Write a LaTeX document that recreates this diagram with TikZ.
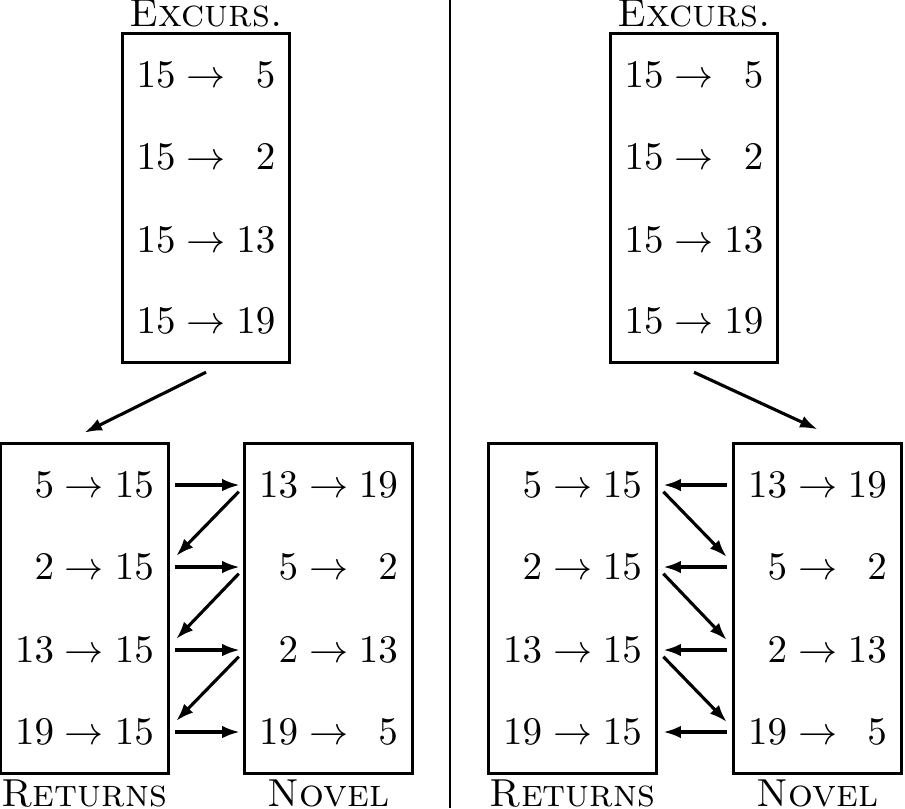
\documentclass[tikz,border=0pt]{standalone}
\usepackage{tikz}
\usetikzlibrary{positioning, fit, arrows.meta}

\begin{document}
\begin{tikzpicture}[
    entry/.style={minimum width=1.494cm, minimum height=0.74cm, inner sep=0pt},
    frame/.style={draw, line width=0.8pt, inner sep=0pt},
    arr/.style={line width=0.8pt, -{Latex[length=4.5pt, width=3.2pt]}}]
  \useasboundingbox (0,0) rectangle (8.145,7.272);

  % left half
  \node[entry] (exL1) at (1.854,6.597) {$15\to\phantom{1}5$};
  \node[entry] (exL2) at (1.854,5.859) {$15\to\phantom{1}2$};
  \node[entry] (exL3) at (1.854,5.112) {$15\to13$};
  \node[entry] (exL4) at (1.854,4.383) {$15\to19$};
  \node[frame, fit=(exL1)(exL4)] (exL) {};
  \node[above=0pt of exL, inner sep=1pt] (exLlab) {\textsc{Excurs.}};

  \node[entry] (retL1) at (0.760,2.907) {$\phantom{1}5\to15$};
  \node[entry] (retL2) at (0.760,2.169) {$\phantom{1}2\to15$};
  \node[entry] (retL3) at (0.760,1.422) {$13\to15$};
  \node[entry] (retL4) at (0.760,0.684) {$19\to15$};
  \node[frame, fit=(retL1)(retL4)] (retL) {};
  \node[below=0.8pt of retL, inner sep=0pt] (retLlab) {\textsc{Returns}};

  \node[entry] (novL1) at (2.957,2.907) {$13\to19$};
  \node[entry] (novL2) at (2.957,2.169) {$\phantom{1}5\to\phantom{1}2$};
  \node[entry] (novL3) at (2.957,1.422) {$\phantom{1}2\to13$};
  \node[entry] (novL4) at (2.957,0.684) {$19\to\phantom{1}5$};
  \node[frame, fit=(novL1)(novL4)] (novL) {};
  \node[below=0.8pt of novL, inner sep=0pt] (novLlab) {\textsc{Novel}};

  \draw[arr] ([yshift=-0.07cm]exL.south) -- ([yshift=0.08cm]retL.north);
  \foreach \i in {1,...,4}
    \draw[arr, shorten <=0.063cm, shorten >=0.045cm] (retL\i.east) -- (novL\i.west);
  \foreach \i/\j in {1/2,2/3,3/4}
    \draw[arr] ([xshift=-0.054cm, yshift=-0.06cm]novL\i.west)
      -- ([xshift=0.072cm, yshift=0.1cm]retL\j.east);

  % divider
  \draw[line width=0.4pt] (4.05,0) -- (4.05,7.272);

  % right half
  \node[entry] (exR1) at (6.246,6.597) {$15\to\phantom{1}5$};
  \node[entry] (exR2) at (6.246,5.859) {$15\to\phantom{1}2$};
  \node[entry] (exR3) at (6.246,5.112) {$15\to13$};
  \node[entry] (exR4) at (6.246,4.383) {$15\to19$};
  \node[frame, fit=(exR1)(exR4)] (exR) {};
  \node[above=0pt of exR, inner sep=1pt] (exRlab) {\textsc{Excurs.}};

  \node[entry] (retR1) at (5.153,2.907) {$\phantom{1}5\to15$};
  \node[entry] (retR2) at (5.153,2.169) {$\phantom{1}2\to15$};
  \node[entry] (retR3) at (5.153,1.422) {$13\to15$};
  \node[entry] (retR4) at (5.153,0.684) {$19\to15$};
  \node[frame, fit=(retR1)(retR4)] (retR) {};
  \node[below=0.8pt of retR, inner sep=0pt] (retRlab) {\textsc{Returns}};

  \node[entry] (novR1) at (7.358,2.907) {$13\to19$};
  \node[entry] (novR2) at (7.358,2.169) {$\phantom{1}5\to\phantom{1}2$};
  \node[entry] (novR3) at (7.358,1.422) {$\phantom{1}2\to13$};
  \node[entry] (novR4) at (7.358,0.684) {$19\to\phantom{1}5$};
  \node[frame, fit=(novR1)(novR4)] (novR) {};
  \node[below=0.8pt of novR, inner sep=0pt] (novRlab) {\textsc{Novel}};

  \draw[arr] ([yshift=-0.07cm]exR.south) -- ([yshift=0.11cm]novR.north);
  \foreach \i in {1,...,4}
    \draw[arr, shorten <=0.063cm, shorten >=0.063cm] (novR\i.west) -- (retR\i.east);
  \foreach \i/\j in {1/2,2/3,3/4}
    \draw[arr] ([xshift=0.063cm, yshift=-0.06cm]retR\i.east)
      -- ([xshift=-0.063cm, yshift=0.09cm]novR\j.west);
\end{tikzpicture}
\end{document}
